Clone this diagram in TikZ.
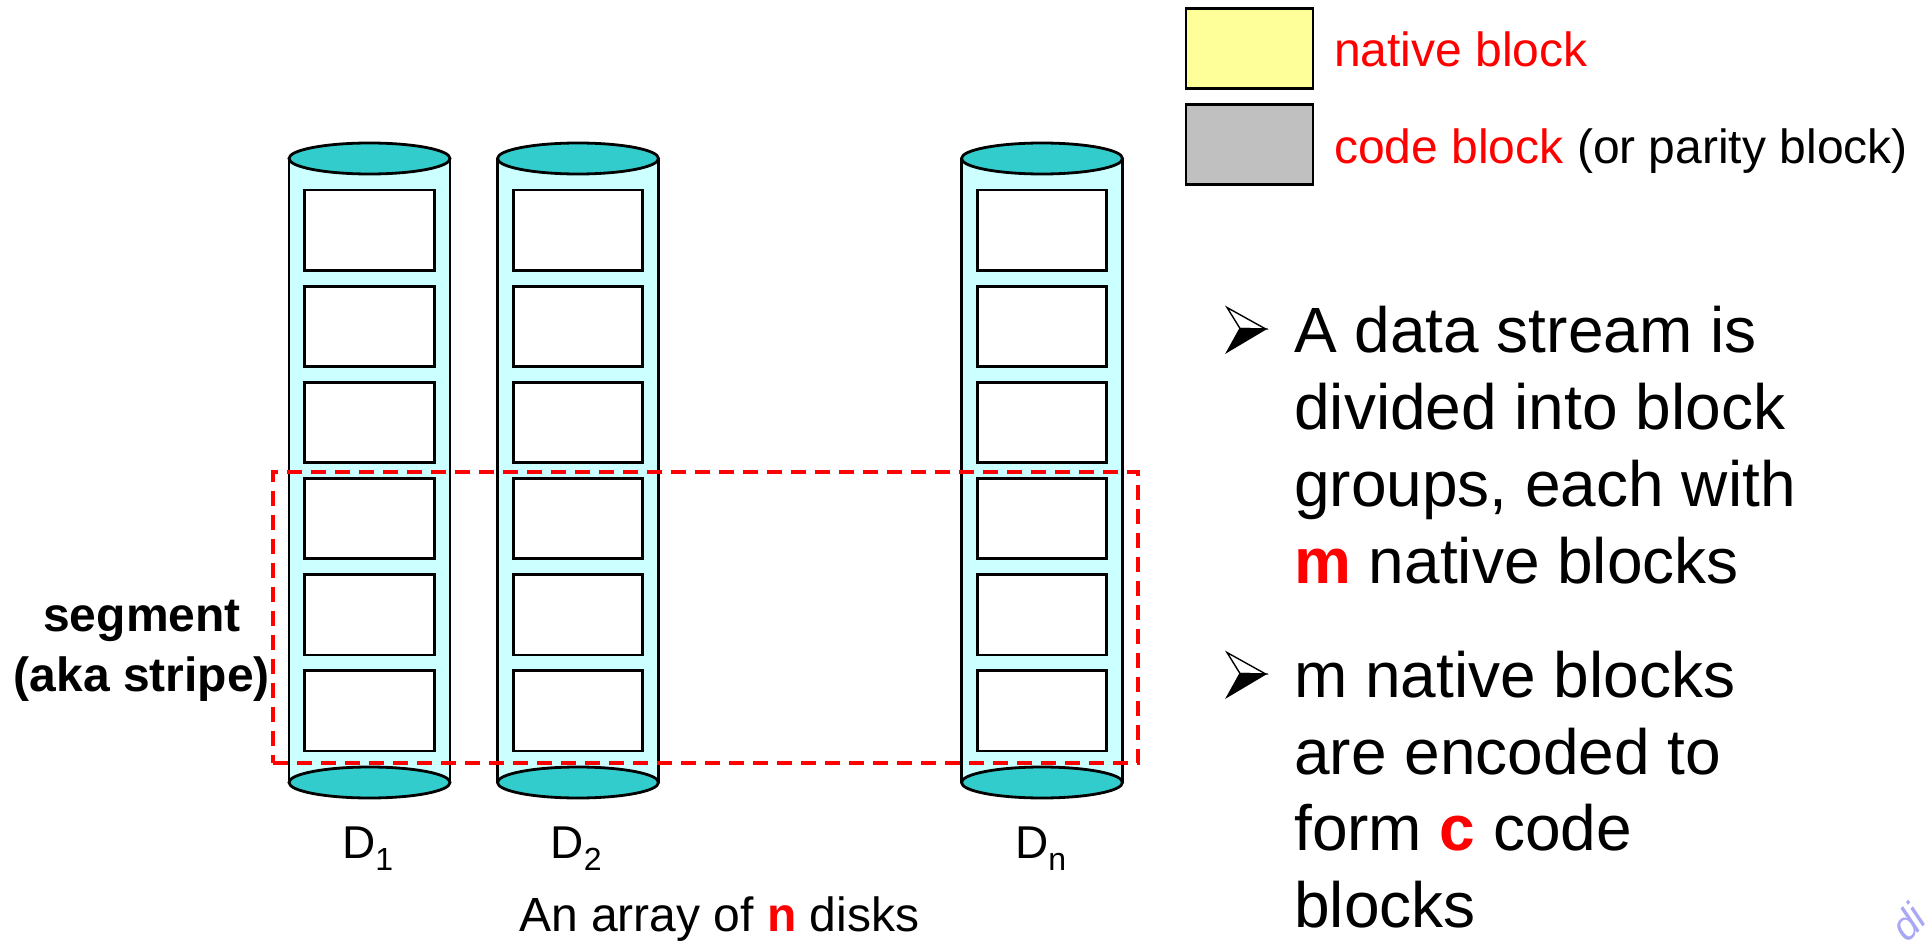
\documentclass[tikz,border=0pt]{standalone}
\usepackage{fontspec}
\setmainfont{Liberation Sans}
\definecolor{diskbody}{HTML}{CCFFFF}
\definecolor{disktop}{HTML}{33CCCC}
\definecolor{nativefill}{HTML}{FFFF99}
\definecolor{codefill}{HTML}{C0C0C0}
\definecolor{hl}{HTML}{FF0000}
\definecolor{wmark}{HTML}{A8A8F5}
\newcommand{\fs}[1]{\fontsize{#1}{#1}\selectfont}
\tikzset{
  outline/.style={draw=black, line width=2.8pt},
  blockbox/.style={outline, fill=white, minimum width=129.5pt, minimum height=80.5pt, inner sep=0pt},
  legendbox/.style={outline, minimum width=127pt, minimum height=80pt, inner sep=0pt},
  stripebox/.style={draw=hl, line width=3.6pt, dash pattern=on 15pt off 9pt, minimum width=865pt, minimum height=291pt, inner sep=0pt},
  txt/.style={inner sep=0pt, anchor=base west},
  pointer/.pic={
    \draw[line width=1.4pt, line join=miter] (-13,-21) -- (25.7,0.5) -- (0,0) -- cycle;
    \filldraw[line width=1.4pt, line join=miter] (0,0) -- (25.7,0.5) -- (-13,23.5) -- cycle;
  }
}
\begin{document}
\begin{tikzpicture}[x=1pt, y=-1pt]
\useasboundingbox (0,0) rectangle (1928,941);

% three disks, each a cylinder holding six blocks
\foreach \cx/\id in {369.5/1, 578/2, 1042/n} {
  \fill[diskbody] (\cx-80.5,158.5) rectangle (\cx+80.5,782.5);
  \draw[outline] (\cx-80.5,158.5) -- (\cx-80.5,782.5);
  \draw[outline] (\cx+80.5,158.5) -- (\cx+80.5,782.5);
  \draw[outline, fill=disktop] (\cx,782.5) ellipse [x radius=80.5pt, y radius=15.5pt];
  \draw[outline, fill=disktop] (\cx,158.5) ellipse [x radius=80.5pt, y radius=15.5pt];
  \foreach \i in {0,...,5} {
    \node[blockbox] (blk-\id-\i) at (\cx, 230.3+96.1*\i) {};
  }
}

% segment (stripe) across the disks
\node[stripebox] (stripe) at (705.5,617.5) {};

% disk labels
\node[txt] (d1) at (342,858) {\fs{46}D\raisebox{-12pt}{\fs{32}1}};
\node[txt] (d2) at (550.5,858) {\fs{46}D\raisebox{-12pt}{\fs{32}2}};
\node[txt] (dn) at (1015,858) {\fs{46}D\raisebox{-12pt}{\fs{32}n}};
\node[txt] (caption) at (519,931) {\fs{48}An array of \textcolor{hl}{\textbf{n}} disks};

% segment label
\node[inner sep=0pt, anchor=base] (seg1) at (142,631) {\fs{48}\textbf{segment}};
\node[inner sep=0pt, anchor=base] (seg2) at (142,691) {\fs{48}\textbf{(aka stripe)}};

% legend
\node[legendbox, fill=nativefill] (legnative) at (1249.5,48.5) {};
\node[legendbox, fill=codefill] (legcode) at (1249.5,144.5) {};
\node[txt] (legnativetxt) at (1334,67) {\fs{48}\textcolor{hl}{native block}};
\node[txt] (legcodetxt) at (1334,164) {\fs{48}\textcolor{hl}{code block} (or parity block)};

% bullet points
\pic at (1240,328.5) {pointer};
\node[txt] (b1a) at (1294,352.7) {\fs{64}A data stream is};
\node[txt] (b1b) at (1294,429.5) {\fs{64}divided into block};
\node[txt] (b1c) at (1294,506.3) {\fs{64}groups, each with};
\node[txt] (b1d) at (1294,583.1) {\fs{64}\textcolor{hl}{\textbf{m}} native blocks};
\pic at (1240,673.5) {pointer};
\node[txt] (b2a) at (1294,697.3) {\fs{64}m native blocks};
\node[txt] (b2b) at (1294,774.1) {\fs{64}are encoded to};
\node[txt] (b2c) at (1294,850.9) {\fs{64}form \textcolor{hl}{\textbf{c}} code};
\node[txt] (b2d) at (1294,927.7) {\fs{64}blocks};

% corner mark
\node[text=wmark, rotate=45, inner sep=0pt] (mark) at (1908,922) {\fs{40}\itshape di};
\end{tikzpicture}
\end{document}
